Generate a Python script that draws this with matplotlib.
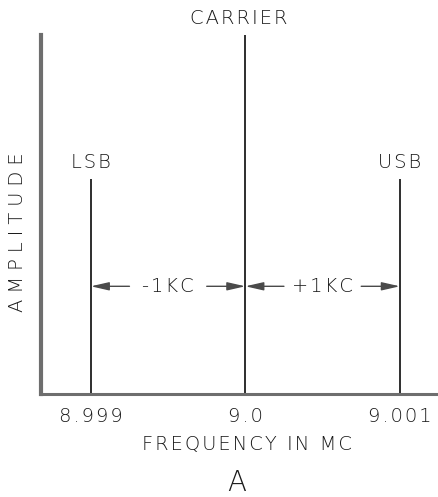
import matplotlib
matplotlib.use('Agg')
import matplotlib.pyplot as plt

# spectrum of a 9 MC carrier with 1 KC sidebands
freqs = [8.999, 9.0, 9.001]
amps = [0.6, 1.0, 0.6]
names = ['LSB', 'CARRIER', 'USB']
tick_labels = ['8.999', '9.0', '9.001']
spacing_labels = ['-1KC', '+1KC']
arrow_level = 0.3

def spaced(s, n=1):
    # wide lettering like the stencil in the original
    return ('\u200a' * n).join(s)

plt.rcParams['font.family'] = ['DejaVu Sans']
plt.rcParams['font.weight'] = 200
txt = dict(color='#1a1a1a', fontsize=14)

fig = plt.figure(figsize=(4.38, 4.97), dpi=100)
ax = fig.add_axes([41/438, 103/497, 397/438, 359/497])

ax.vlines(freqs, 0, amps, color='#1e1e1e', linewidth=1.3, clip_on=False)

for f, a, n in zip(freqs, amps, names):
    ax.annotate(spaced(n), (f, a), xytext=(-5 if n == 'CARRIER' else 0, 5),
                textcoords='offset points', ha='center', va='bottom', **txt)

# the 1 KC spacing arrows between the lines
for i, lab in enumerate(spacing_labels):
    lo, hi = freqs[i], freqs[i + 1]
    mid = (lo + hi) / 2
    gap = 0.25 * (hi - lo)
    ax.text(mid, arrow_level, spaced(lab), ha='center', va='center', **txt)
    ap = dict(arrowstyle='-|>,head_length=1.1,head_width=0.25', color='#4a4a4a',
              lw=1.0, shrinkA=0, shrinkB=0)
    ax.annotate('', xy=(lo, arrow_level), xytext=(mid - gap, arrow_level), arrowprops=ap)
    ax.annotate('', xy=(hi, arrow_level), xytext=(mid + gap, arrow_level), arrowprops=ap)

ax.set_xlim(8.9986775, 9.001247)
ax.set_ylim(0, 1.0)
ax.set_xticks(freqs, [spaced(t) for t in tick_labels])
ax.set_yticks([])
ax.tick_params(axis='x', length=0, pad=9, labelsize=14, labelcolor='#1a1a1a')

for s in ['top', 'right']:
    ax.spines[s].set_visible(False)
ax.spines['left'].set_linewidth(3.0)
ax.spines['left'].set_color('#6e6e6e')
ax.spines['bottom'].set_linewidth(2.2)
ax.spines['bottom'].set_color('#6e6e6e')

fig.text(18/438, 1 - 232/497, spaced('AMPLITUDE', 3), rotation=90, ha='center', va='center', **txt)
fig.text(247/438, 1 - 444/497, spaced('FREQUENCY IN MC'), ha='center', va='center', **txt)
fig.text(237/438, 1 - 483/497, 'A', ha='center', va='center', fontsize=20, color='#1a1a1a')

plt.savefig('out.png', dpi=100)
